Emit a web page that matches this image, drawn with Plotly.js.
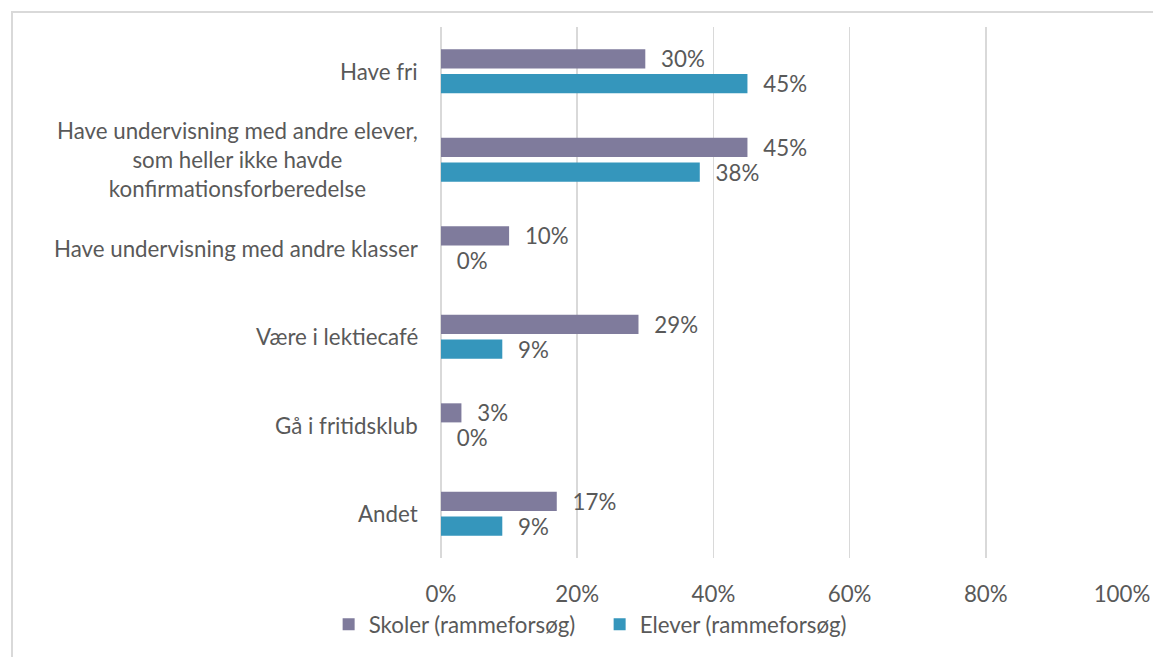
<!DOCTYPE html>
<html>
<head>
<meta charset="utf-8">
<script src="https://cdn.plot.ly/plotly-3.0.1.min.js"></script>
<style>
  html, body { margin: 0; padding: 0; background: #fff; overflow: hidden; }
  #chart { width: 1153px; height: 657px; }
  #frame { position: absolute; left: 11px; top: 11px; width: 1200px; height: 700px;
           border-left: 2px solid #d9d9d9; border-top: 2px solid #d9d9d9; pointer-events: none; }
</style>
</head>
<body>
<div id="chart"></div>
<div id="frame"></div>
<script>
const categories = [
  "Have fri",
  "Have undervisning med andre elever,<br>som heller ikke havde<br>konfirmationsforberedelse",
  "Have undervisning med andre klasser",
  "Være i lektiecafé",
  "Gå i fritidsklub",
  "Andet"
];
const seriesNames = ["Skoler (rammeforsøg)", "Elever (rammeforsøg)"];
const skoler = [0.30, 0.45, 0.10, 0.29, 0.03, 0.17];
const elever = [0.45, 0.38, 0.00, 0.09, 0.00, 0.09];
const tickVals = [0, 0.2, 0.4, 0.6, 0.8, 1.0];
const tickText = ["0%", "20%", "40%", "60%", "80%", "100%"];

const FONT = "Lato, 'Open Sans', sans-serif";
const TXT = "#595959";
const FS = 22.3;
const colors = ["#7f7b9c", "#3596bc"];

function mk(name, vals, color) {
  return {
    type: "bar", orientation: "h", name: name,
    x: vals, y: categories,
    marker: { color: color },
    texttemplate: "\u00a0\u00a0\u200a%{x:.0%}",
    textposition: "outside",
    constraintext: "none",
    cliponaxis: false,
    textfont: { family: FONT, size: FS, color: TXT },
    hoverinfo: "skip"
  };
}

const data = [mk(seriesNames[0], skoler, colors[0]), mk(seriesNames[1], elever, colors[1])];

const annotations = categories.map(c => ({
  xref: "paper", yref: "y", x: 0, y: c, xanchor: "right", yanchor: "middle",
  xshift: -21, text: c, showarrow: false, align: "center",
  font: { family: FONT, size: FS, color: TXT }
}));

const layout = {
  width: 1153, height: 657,
  margin: { l: 441, r: 31, t: 27, b: 96 },
  paper_bgcolor: "#fff", plot_bgcolor: "#fff",
  barmode: "group", bargap: 0.44, bargroupgap: 0.23,
  font: { family: FONT, size: FS, color: TXT },
  xaxis: {
    range: [0, 1], tickvals: tickVals, ticktext: tickText,
    showgrid: true, gridcolor: "#d9d9d9", gridwidth: 1.5,
    zeroline: true, zerolinecolor: "#d9d9d9", zerolinewidth: 1.5,
    ticks: "outside", ticklen: 16, tickcolor: "rgba(0,0,0,0)",
    tickfont: { family: FONT, size: FS, color: TXT },
    fixedrange: true
  },
  yaxis: {
    autorange: "reversed", showticklabels: false, showgrid: false,
    zeroline: false, showline: false, fixedrange: true
  },
  showlegend: true,
  legend: {
    orientation: "h", xref: "paper", yref: "paper",
    x: -0.165, xanchor: "left", y: -0.085, yanchor: "top",
    entrywidth: 226, entrywidthmode: "pixels",
    font: { family: FONT, size: FS, color: TXT },
    traceorder: "normal", itemclick: false, itemdoubleclick: false
  },
  annotations: annotations
};

Plotly.newPlot("chart", data, layout, { displayModeBar: false, staticPlot: true });
</script>
</body>
</html>
